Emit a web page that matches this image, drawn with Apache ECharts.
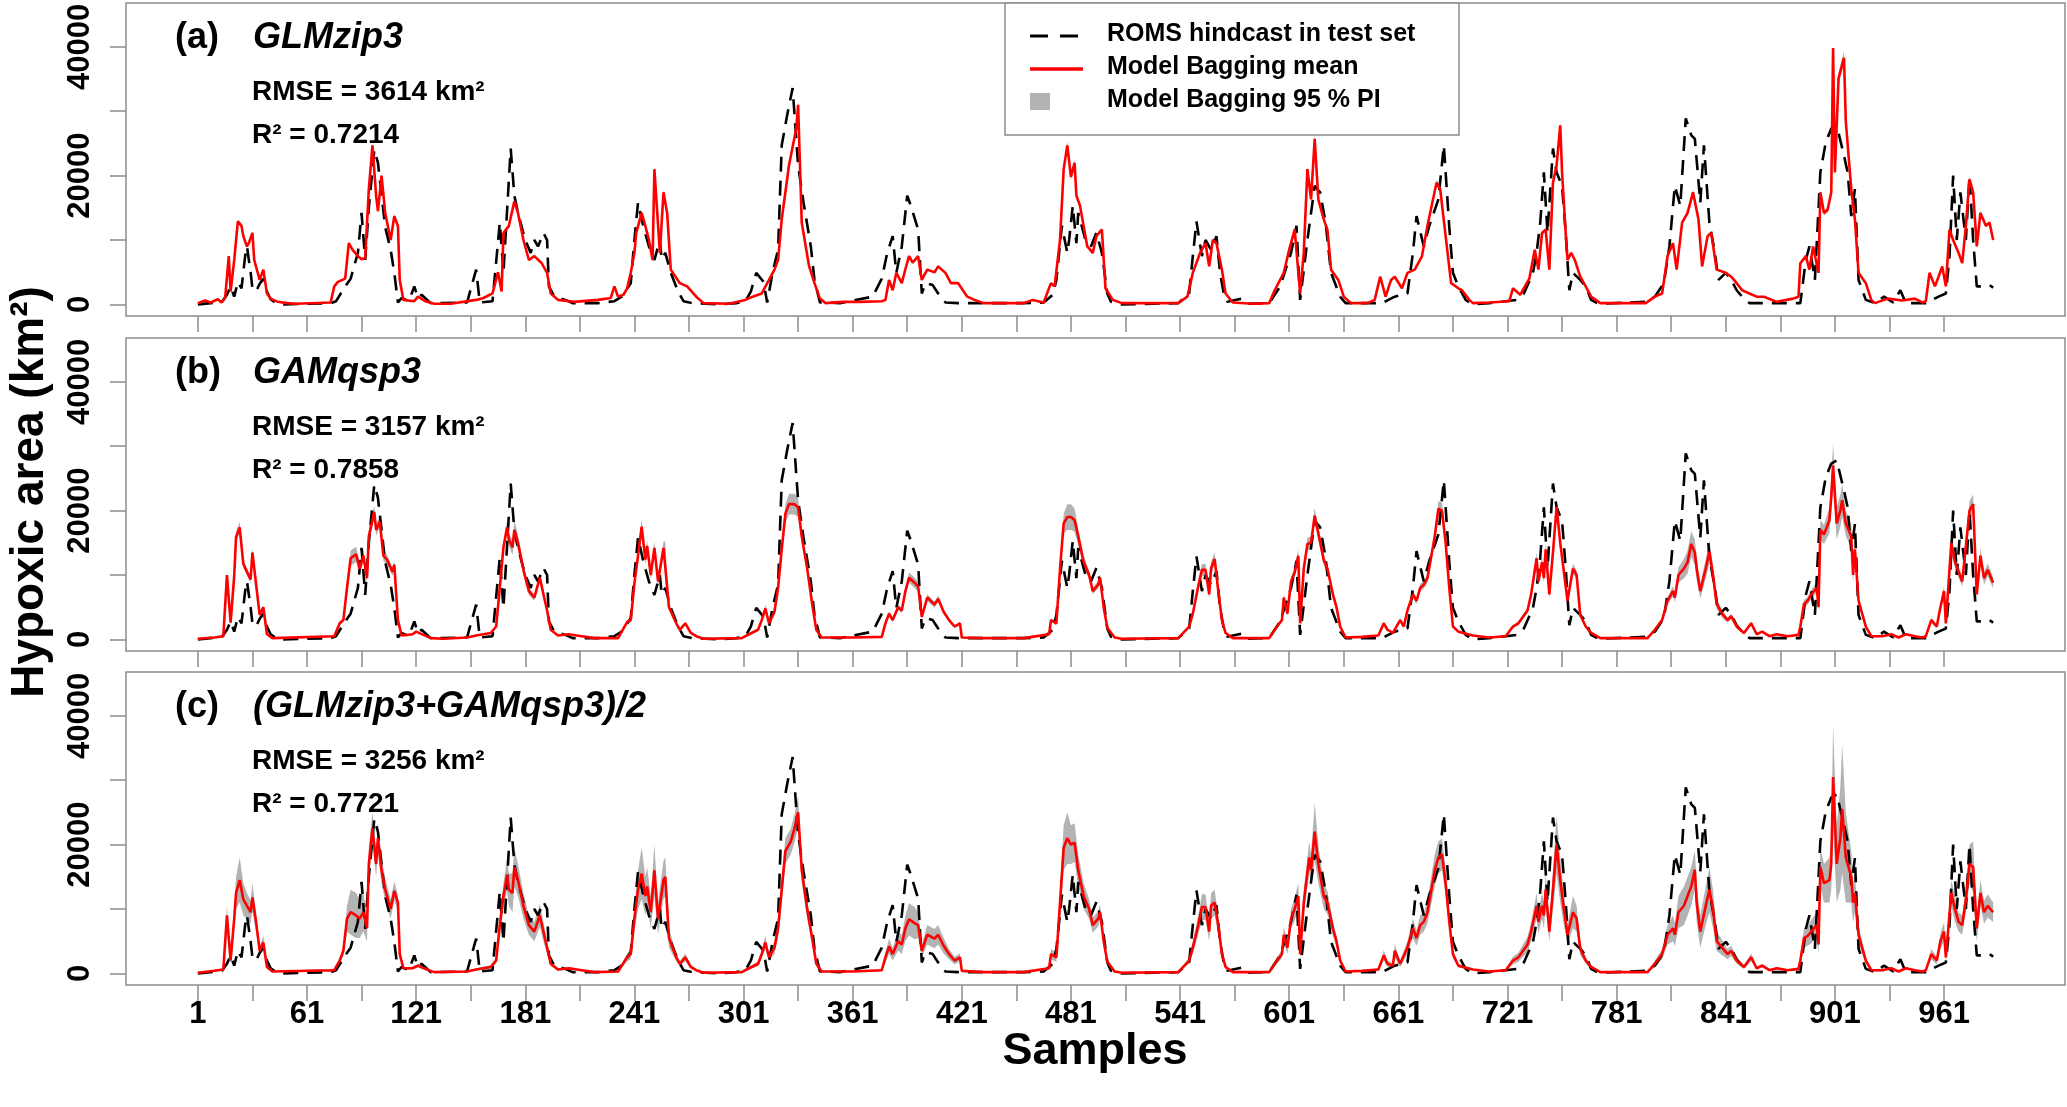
<!DOCTYPE html>
<html>
<head>
<meta charset="utf-8">
<script src="https://cdn.jsdelivr.net/npm/echarts@6/dist/echarts.min.js"></script>
<style>
html, body { margin: 0; padding: 0; background: #fff; }
#chart { width: 2067px; height: 1107px; }
</style>
</head>
<body>
<div id="chart"></div>
<script>
// ROMS hindcast in test set: [sample, hypoxic area in 1000 km2]
var hindcast = [
  [1,0],[8,0.2],[14,0.3],[17,1.5],[19,2.8],[21,1.2],[23,3.5],[25,2.5],[27,7.5],[28,9.0],[30,5.0],[31,2.5],[33,2.0],[35,3.2],[37,4.0],[39,2.0],[41,0.8],[44,0.2],[48,0],
  [74,0.2],[77,0.5],[82,2.8],[85,4.0],[89,8.0],[91,14.2],[93,6.9],[95,15.0],[98,24.0],[100,22.0],[102,17.0],[104,12.0],[107,8.5],[109,4.9],[111,0.3],[113,1.0],[117,0.5],[120,2.8],[122,1.0],[124,1.5],[129,0.2],
  [131,0.2],[149,0.3],[154,5.4],[156,0.3],[163,0.5],[167,12.7],[169,4.9],[173,24.2],[175,16.9],[177,14.2],[181,10.0],[184,8.0],[186,10.0],[188,9.0],[191,11.1],[193,10.0],[194,2.8],[197,1.2],[203,0.7],[207,0.2],[221,0.2],[230,0.5],
  [234,1.2],[239,3.3],[241,10.0],[243,15.8],[246,12.0],[249,9.0],[252,6.9],[255,10.0],[256,7.0],[258,8.0],[261,4.9],[265,2.0],[268,0.5],[273,0.2],[288,0],
  [297,0.2],[302,0.5],[305,2.0],[308,4.9],[312,3.5],[314,0.3],[317,5.0],[320,8.5],[322,24.7],[325,29.4],[328,33.6],[331,21.6],[334,15.8],[338,9.0],[340,3.8],[343,0.3],
  [354,0.2],[372,1.2],[377,4.0],[380,8.0],[383,10.6],[385,4.9],[388,9.0],[391,16.9],[393,15.3],[397,11.6],[399,1.7],[401,3.3],[405,3.0],[408,1.7],[412,0.3],[419,0.2],[455,0.2],
  [466,0.3],[471,1.5],[473,3.8],[476,12.2],[479,8.0],[480,10.0],[482,15.3],[484,9.5],[485,14.2],[489,10.0],[492,9.0],[495,11.1],[498,8.0],[501,1.7],[503,0.4],[509,0],
  [540,0.2],[546,1.7],[548,7.5],[550,12.9],[553,7.5],[555,10.0],[558,8.5],[561,10.6],[563,4.9],[565,1.7],[567,0.4],[575,0.9],[578,0.1],
  [590,0.2],[596,2.8],[602,8.0],[605,12.2],[607,0.7],[611,10.0],[615,18.4],[618,17.4],[621,12.7],[624,4.9],[629,1.2],[632,0.2],
  [652,0.2],[659,1.2],[666,1.7],[669,8.0],[671,13.7],[675,9.0],[678,12.2],[683,16.3],[686,24.7],[689,12.0],[691,4.9],[694,2.8],[698,0.7],[702,0],
  [711,0.2],[726,0.7],[730,1.7],[735,4.9],[737,8.0],[739,12.7],[741,20.5],[743,11.1],[746,24.2],[748,20.5],[751,18.4],[753,11.1],[755,2.2],[757,4.9],[761,3.8],[764,2.8],[767,0.7],[771,0.1],
  [797,0.4],[802,1.2],[807,3.3],[810,9.0],[813,18.4],[816,15.3],[819,28.9],[822,26.3],[824,25.7],[827,15.8],[829,24.7],[832,12.7],[835,8.0],[837,3.8],[841,4.9],[844,3.8],[847,2.2],[850,1.2],[854,0.2],
  [882,0.2],[885,6.9],[887,9.0],[890,3.8],[893,20.5],[896,25.2],[899,27.3],[902,27.8],[906,23.1],[908,20.5],[910,13.7],[912,17.9],[914,3.8],[918,0.7],[923,0.2],[928,1.2],[933,0.3],[937,2.2],[940,0.2],
  [951,0.2],[958,1.2],[962,1.7],[964,7.5],[966,20.0],[968,10.0],[970,17.4],[973,10.0],[975,20.0],[977,10.0],[979,2.8],[981,2.8],[986,3.0],[988,2.6]
];

// Model bagging: [sample, mean (1000 km2), half width of 95% PI (1000 km2)]
var meanGLM = [
  [1,0.2,0],[5,0.6,0],[8,0.3,0],[12,0.8,0],[14,0.3,0],[16,1.0,0],[18,7.5,0.2],[19,2.0,0.1],[21,6.9,0.2],[23,12.9,0.3],[25,12.2,0.3],[26,10.6,0.3],[28,9.0,0.2],[29,9.5,0.2],[31,11.1,0.3],[32,6.9,0.2],[35,3.8,0.1],[37,5.4,0.1],[39,1.7,0],[41,0.9,0],[45,0.4,0],[50,0.2,0],
  [55,0.1,0],[74,0.3,0],[76,2.8,0.1],[78,3.5,0.1],[82,4.0,0.1],[84,9.5,0.3],[86,8.5,0.3],[89,7.5,0.2],[91,7.0,0.2],[93,7.2,0.2],[95,17.9,0.4],[97,24.7,0.6],[99,16.9,0.4],[100,14.5,0.4],[102,20.0,0.5],[104,14.2,0.4],[107,10.0,0.3],[109,13.7,0.4],[111,12.2,0.3],[112,3.8,0.1],[114,0.7,0],[120,0.5,0],[122,1.2,0],[126,0.5,0],[131,0.1,0],
  [140,0.1,0],[154,0.7,0],[158,1.0,0],[163,1.7,0],[166,5.0,0.1],[168,2.0,0.1],[169,11.1,0.3],[172,12.2,0.3],[175,16.0,0.4],[177,14.2,0.4],[180,10.0,0.3],[183,6.9,0.2],[186,7.5,0.2],[190,6.4,0.2],[193,4.9,0.1],[195,1.7,0],[199,0.7,0],[208,0.4,0],[221,0.7,0],[228,1.0,0],[230,2.8,0.1],[232,1.2,0],
  [235,1.5,0],[237,2.5,0.1],[239,4.9,0.1],[241,8.0,0.2],[242,11.1,0.3],[245,14.2,0.4],[247,12.2,0.3],[249,10.0,0.3],[251,6.9,0.2],[252,21.0,0.5],[255,8.0,0.2],[257,17.4,0.4],[259,14.2,0.4],[261,5.4,0.1],[266,3.3,0.1],[270,2.8,0.1],[275,1.2,0],[279,0.2,0],
  [293,0.1,0],[302,0.7,0],[306,1.2,0],[311,1.7,0],[315,3.8,0.1],[318,5.4,0.1],[320,6.9,0.2],[322,13.2,0.3],[326,21.6,0.5],[330,27.3,0.7],[331,31.0,0.8],[333,12.7,0.3],[337,6.0,0.2],[340,3.3,0.1],[343,0.9,0],
  [346,0.2,0],[356,0.4,0],[365,0.4,0],[377,0.5,0],[379,0.7,0],[381,3.8,0.1],[383,2.2,0.1],[385,4.9,0.1],[388,3.3,0.1],[390,5.5,0.1],[392,7.5,0.2],[394,6.5,0.2],[397,7.5,0.2],[399,3.8,0.1],[402,5.4,0.1],[406,5.0,0.1],[408,5.9,0.1],[412,4.9,0.1],[415,3.3,0.1],[419,3.3,0.1],[424,1.2,0],[428,0.7,0],[433,0.2,0],
  [455,0.2,0],[460,0.7,0],[466,0.3,0],[470,3.3,0.1],[472,2.8,0.1],[475,10.0,0.3],[477,21.0,0.5],[479,24.7,0.6],[481,19.8,0.5],[483,22.0,0.5],[484,16.9,0.4],[486,15.3,0.4],[490,9.0,0.2],[493,8.0,0.2],[495,10.6,0.3],[498,11.6,0.3],[500,2.5,0.1],[504,0.7,0],[509,0.2,0],
  [540,0.2,0],[545,1.2,0],[548,4.9,0.1],[552,8.0,0.2],[555,9.5,0.2],[557,5.9,0.1],[559,10.0,0.3],[561,9.5,0.2],[564,5.4,0.1],[566,1.7,0],[570,0.3,0],[581,0.1,0],
  [590,0.2,0],[593,2.2,0.1],[598,4.9,0.1],[601,8.5,0.2],[604,11.6,0.3],[607,1.7,0.1],[609,8.0,0.2],[611,21.0,0.5],[613,16.3,0.4],[615,25.7,0.7],[617,16.3,0.4],[620,13.2,0.3],[622,11.6,0.3],[624,5.4,0.1],[628,3.8,0.1],[631,1.2,0],[635,0.2,0],
  [644,0.2,0],[648,0.7,0],[651,4.3,0.1],[654,1.2,0],[657,3.8,0.1],[659,4.3,0.1],[663,2.5,0.1],[666,4.9,0.1],[670,5.4,0.1],[674,7.5,0.2],[677,12.2,0.3],[682,18.9,0.5],[684,17.9,0.4],[687,10.6,0.3],[690,3.3,0.1],[694,2.5,0.1],[696,2.2,0.1],[700,0.7,0],[702,0.2,0],
  [711,0.3,0],[722,0.5,0],[724,2.5,0.1],[728,1.5,0],[733,4.0,0.1],[736,8.5,0.2],[738,5.4,0.1],[740,11.1,0.3],[742,11.6,0.3],[744,5.4,0.1],[746,18.9,0.5],[748,21.6,0.5],[750,27.8,0.7],[751,20.5,0.5],[753,11.1,0.3],[754,6.9,0.2],[756,8.0,0.2],[758,6.9,0.2],[761,4.3,0.1],[764,2.8,0.1],[767,1.2,0],[772,0.2,0],
  [797,0.2,0],[802,1.2,0],[806,1.7,0],[809,7.5,0.2],[812,9.5,0.2],[814,5.4,0.1],[817,12.7,0.3],[820,14.2,0.4],[823,17.4,0.4],[826,13.2,0.3],[828,5.9,0.1],[831,10.6,0.3],[833,11.1,0.3],[836,5.4,0.1],[841,4.9,0.1],[844,4.3,0.1],[847,3.3,0.1],[850,2.2,0.1],[854,1.7,0],[858,1.2,0],[862,1.2,0],[869,0.4,0],[878,0.9,0],[881,1.2,0],
  [882,6.4,0.2],[885,7.5,0.2],[887,5.4,0.1],[889,9.0,0.2],[892,4.9,0.1],[893,17.4,0.4],[895,14.2,0.4],[897,14.7,0.4],[899,17.4,0.4],[900,39.8,1.0],[901,20.5,0.5],[903,35.1,0.9],[906,38.3,1.0],[907,28.4,0.7],[910,17.9,0.4],[912,13.2,0.3],[914,4.9,0.1],[918,3.3,0.1],[921,0.7,0],[923,0.2,0],[930,0.9,0],[938,0.6,0],[945,0.9,0],[949,0.3,0],
  [951,0.5,0],[953,4.9,0.1],[956,2.8,0.1],[958,4.3,0.1],[960,5.9,0.1],[962,2.8,0.1],[964,11.6,0.3],[966,10.0,0.3],[969,8.0,0.2],[971,6.4,0.2],[973,12.2,0.3],[975,19.4,0.5],[977,17.4,0.4],[979,9.0,0.2],[981,14.2,0.4],[984,12.2,0.3],[986,12.7,0.3],[988,10.0,0.3]
];

var meanGAM = [
  [1,0.1,0],[10,0.3,0],[15,0.5,0.1],[17,10.0,0.5],[19,2.6,0.3],[21,9.9,0.6],[22,15.9,0.8],[24,17.4,0.9],[26,11.7,0.6],[28,10.5,0.6],[30,9.3,0.5],[31,13.5,0.7],[33,8.6,0.5],[35,3.8,0.3],[37,5.0,0.3],[39,0.8,0.1],[42,0.2,0],
  [76,0.5,0.1],[79,2.5,0.3],[81,3.0,0.3],[83,8.0,0.6],[85,12.6,1.2],[88,13.2,1.2],[90,11.0,1.0],[92,13.0,1.0],[94,9.5,0.7],[95,16.0,1.0],[98,19.8,1.0],[99,17.0,0.9],[101,18.3,0.9],[103,13.0,0.8],[105,12.4,0.8],[108,10.5,0.6],[109,11.6,0.6],[111,3.0,0.3],[113,0.6,0.1],[119,0.8,0.1],[121,1.2,0.1],[125,0.7,0.1],[129,0.2,0],
  [136,0.1,0],[149,0.3,0],[154,0.6,0.1],[162,1.0,0.1],[165,2.0,0.2],[167,8.0,0.5],[169,14.3,0.8],[171,17.4,1.0],[172,15.5,1.0],[174,14.3,1.2],[175,17.0,1.5],[177,15.0,1.2],[180,10.8,0.8],[183,7.5,0.6],[186,6.5,0.5],[189,9.6,0.6],[191,7.0,0.5],[193,4.5,0.3],[195,1.5,0.2],[199,0.6,0.1],[205,0.8,0.1],[212,0.5,0],[219,0.2,0],
  [232,0.2,0],[237,2.7,0.2],[239,3.0,0.3],[241,8.7,0.6],[243,13.0,0.9],[245,17.5,1.1],[247,12.4,0.8],[248,14.5,0.9],[250,10.0,0.7],[252,14.2,1.0],[254,9.0,0.7],[257,14.2,1.0],[258,14.2,1.0],[260,5.0,0.4],[264,2.5,0.2],[266,1.5,0.1],[269,2.5,0.2],[272,1.0,0.1],[275,0.5,0],[279,0.1,0],
  [300,0.2,0],[304,0.8,0.1],[309,1.5,0.2],[311,3.0,0.4],[313,4.8,0.6],[315,2.5,0.4],[318,4.3,0.6],[320,8.0,1.0],[322,14.0,1.2],[324,19.5,1.5],[326,21.0,1.6],[329,21.0,1.6],[331,20.5,1.5],[333,16.0,1.2],[336,11.0,0.8],[339,5.0,0.4],[341,1.5,0.2],[344,0.3,0],
  [361,0.3,0],[377,0.4,0],[379,2.5,0.3],[381,4.0,0.4],[383,3.0,0.3],[386,5.0,0.4],[388,4.5,0.4],[390,7.5,0.6],[392,9.6,0.8],[395,8.8,0.8],[397,8.2,0.7],[399,3.5,0.4],[402,6.5,0.5],[406,5.4,0.5],[408,6.3,0.5],[411,4.3,0.4],[414,3.0,0.3],[417,2.0,0.2],[420,2.5,0.2],[421,0.3,0],[433,0.2,0],
  [455,0.2,0],[469,0.8,0.1],[470,3.0,0.3],[473,2.5,0.3],[475,11.0,0.8],[477,18.0,1.5],[479,19.0,2.0],[481,19.0,2.0],[483,18.5,1.8],[485,16.0,1.3],[488,12.0,0.9],[491,10.0,0.7],[493,7.5,0.5],[496,8.5,0.6],[497,9.6,0.6],[499,5.0,0.4],[501,1.8,0.2],[505,0.3,0],[509,0.1,0],
  [540,0.2,0],[546,2.0,0.2],[548,4.0,0.4],[551,8.3,0.7],[553,10.8,0.9],[555,10.8,0.9],[557,7.0,0.6],[558,11.0,1.0],[560,12.5,1.0],[562,7.5,0.6],[564,3.0,0.3],[566,1.0,0.1],[570,0.2,0],
  [590,0.2,0],[593,1.5,0.2],[597,3.0,0.3],[598,6.5,0.5],[600,4.0,0.4],[602,9.0,0.7],[604,10.4,0.8],[606,13.0,1.0],[607,2.5,0.3],[609,11.0,0.8],[611,14.8,1.0],[613,15.0,1.0],[615,19.2,1.2],[617,16.5,1.0],[620,12.3,0.8],[622,11.0,0.7],[625,7.0,0.5],[627,5.0,0.4],[629,2.0,0.2],[632,0.3,0],
  [641,0.4,0],[650,0.6,0.1],[653,2.5,0.3],[655,1.5,0.2],[658,1.0,0.1],[662,3.0,0.3],[664,2.0,0.2],[666,4.5,0.4],[669,7.0,0.6],[671,6.0,0.5],[673,8.0,0.6],[675,8.5,0.6],[677,9.5,0.7],[681,16.0,1.0],[683,20.3,1.2],[685,20.0,1.2],[687,15.0,1.0],[689,8.0,0.6],[691,2.0,0.2],[694,1.2,0.1],[702,0.6,0],
  [711,0.3,0],[720,0.5,0],[724,2.0,0.2],[727,2.5,0.3],[732,4.5,0.4],[734,7.0,0.6],[737,12.6,0.9],[738,9.0,0.7],[740,12.0,0.9],[741,9.5,0.7],[742,14.0,1.0],[744,7.0,0.6],[746,13.5,1.0],[748,20.6,1.2],[750,15.0,1.0],[752,10.5,0.8],[754,6.0,0.5],[757,11.0,0.8],[759,10.0,0.7],[761,3.8,0.3],[764,2.0,0.2],[767,1.0,0.1],[772,0.2,0],
  [798,0.2,0],[802,1.5,0.2],[806,3.0,0.3],[809,6.0,0.6],[812,7.5,0.8],[813,6.5,0.7],[815,10.0,1.2],[818,11.0,1.5],[820,12.0,1.8],[822,14.8,2.0],[824,13.5,2.0],[825,11.0,1.8],[827,7.5,1.2],[830,11.0,1.5],[832,13.6,1.8],[834,10.0,1.4],[836,5.5,0.8],[839,4.0,0.6],[842,3.0,0.4],[844,3.6,0.4],[847,2.0,0.3],[851,1.0,0.1],[855,2.5,0.3],[858,0.8,0.1],[861,1.2,0.1],[865,0.5,0],[869,0.8,0.1],[875,0.5,0],[881,0.7,0.1],
  [882,2.0,0.3],[884,5.5,0.6],[886,6.0,0.6],[888,7.0,0.7],[891,8.0,0.8],[892,5.0,0.6],[893,17.0,1.5],[895,16.3,1.5],[898,18.5,2.0],[899,22.2,2.5],[900,27.0,3.5],[902,18.0,2.5],[904,20.0,2.5],[905,21.6,2.5],[907,18.0,2.0],[910,16.0,1.8],[911,10.0,1.2],[912,14.0,1.5],[914,6.0,0.7],[918,2.0,0.3],[921,0.5,0.1],[927,0.5,0.1],[932,0.8,0.1],[936,0.3,0],[940,0.8,0.1],[945,0.5,0.1],[949,0.3,0],
  [951,0.5,0.1],[954,3.0,0.4],[957,2.0,0.3],[959,5.0,0.6],[961,7.5,0.8],[962,2.5,0.4],[965,15.0,1.2],[967,12.0,1.0],[969,10.5,0.9],[971,9.0,0.8],[973,14.5,1.2],[975,20.0,1.5],[977,21.0,1.5],[979,7.0,0.8],[981,13.0,1.2],[983,9.5,1.0],[985,10.8,1.0],[988,8.8,0.9]
];

var meanAvg = [
  [1,0.1,0],[10,0.4,0.1],[15,0.6,0.2],[17,9.0,1.5],[19,2.0,0.6],[21,8.5,1.5],[22,12.5,2.5],[24,14.5,3.5],[26,11.5,2.5],[28,10.5,2.0],[30,9.5,1.8],[31,11.8,2.2],[33,8.0,1.5],[35,3.5,0.8],[37,4.8,1.0],[39,1.0,0.3],[42,0.3,0.1],
  [76,0.5,0.2],[79,2.0,0.5],[81,3.5,0.8],[83,8.5,2.0],[85,9.5,3.5],[88,9.0,3.5],[90,8.5,3.0],[92,9.5,3.0],[94,7.0,2.0],[95,17.0,2.5],[97,22.5,2.5],[99,17.0,2.0],[100,21.0,2.5],[102,16.0,2.0],[104,13.0,1.8],[107,10.0,1.5],[109,12.8,1.5],[111,11.0,1.2],[112,3.0,0.6],[114,0.8,0.2],[119,0.8,0.2],[122,1.2,0.3],[126,0.7,0.2],[131,0.2,0],
  [149,0.3,0.1],[154,0.6,0.2],[162,1.0,0.3],[165,2.0,0.5],[167,7.5,1.5],[169,12.0,2.0],[171,15.3,2.5],[172,13.0,2.5],[174,12.5,3.0],[175,16.5,3.0],[177,14.5,2.5],[180,10.5,2.0],[183,7.5,1.5],[186,6.5,1.5],[189,9.0,1.8],[191,6.5,1.5],[193,4.0,1.0],[195,1.5,0.4],[199,0.6,0.2],[205,0.8,0.2],[212,0.5,0.1],[219,0.2,0],
  [232,0.3,0.1],[237,2.5,0.6],[239,3.0,0.8],[241,8.5,2.0],[243,13.0,3.0],[245,15.5,4.0],[247,12.0,3.0],[248,13.5,3.0],[250,9.5,2.5],[252,16.0,4.0],[254,8.5,2.5],[257,14.5,3.0],[258,15.0,3.0],[260,5.5,1.5],[264,2.5,0.6],[266,1.5,0.4],[269,2.5,0.6],[272,1.0,0.3],[275,0.5,0.1],[279,0.1,0],
  [300,0.2,0],[304,0.8,0.2],[309,1.5,0.4],[311,3.0,0.7],[313,4.8,1.0],[315,2.5,0.6],[318,4.0,1.0],[320,7.0,1.5],[322,13.0,2.0],[324,19.0,2.0],[327,20.5,2.0],[329,22.5,2.2],[331,25.0,2.5],[333,16.0,2.0],[336,10.0,1.5],[339,5.0,0.8],[341,1.5,0.3],[344,0.3,0.1],
  [361,0.3,0.1],[377,0.5,0.1],[379,2.5,0.8],[381,4.2,1.2],[383,3.0,1.0],[386,5.0,1.5],[388,4.5,1.5],[390,7.0,2.0],[392,8.4,2.5],[395,7.8,2.5],[397,7.5,2.0],[399,3.5,1.0],[402,6.0,1.5],[406,5.4,1.5],[408,6.0,1.5],[411,4.3,1.2],[414,3.0,0.8],[417,2.0,0.6],[420,2.5,0.6],[421,0.4,0.1],[433,0.2,0],
  [455,0.2,0],[469,0.8,0.2],[470,3.0,0.8],[473,2.5,0.7],[475,11.0,2.5],[477,19.5,3.5],[479,21.0,4.0],[481,20.0,3.0],[483,20.3,3.0],[485,16.0,2.5],[488,12.0,2.0],[491,10.0,1.5],[493,7.5,1.2],[496,8.5,1.2],[497,9.5,1.2],[499,5.0,0.8],[501,1.8,0.4],[505,0.3,0.1],[509,0.1,0],
  [540,0.2,0],[546,2.0,0.5],[548,4.0,1.0],[551,7.5,1.5],[553,10.3,2.0],[555,10.3,2.0],[557,6.5,1.5],[558,10.5,2.0],[560,11.0,2.0],[562,7.5,1.5],[564,3.0,0.7],[566,1.0,0.3],[570,0.2,0],
  [590,0.2,0],[593,1.5,0.4],[597,3.0,0.7],[598,6.0,1.2],[600,4.0,1.0],[602,8.5,1.5],[604,10.0,1.8],[606,12.0,2.0],[607,3.0,0.8],[609,11.0,2.0],[612,18.0,2.5],[613,16.0,2.5],[615,22.0,4.5],[617,17.0,3.0],[620,12.0,2.0],[622,11.0,1.8],[625,7.0,1.2],[627,5.0,0.8],[629,2.0,0.4],[632,0.3,0.1],
  [641,0.4,0.1],[650,0.6,0.2],[653,2.8,0.8],[655,1.5,0.5],[658,1.2,0.4],[659,3.5,1.0],[662,1.5,0.5],[666,4.0,1.0],[669,7.0,1.5],[671,5.5,1.2],[673,7.5,1.5],[675,8.0,1.5],[677,9.5,1.8],[681,16.0,2.5],[683,18.0,2.5],[685,18.5,2.5],[687,14.0,2.0],[689,8.0,1.2],[691,3.0,0.6],[694,1.2,0.3],[702,0.6,0.1],
  [711,0.3,0.1],[720,0.5,0.1],[724,2.0,0.6],[727,2.5,0.7],[732,4.5,1.2],[734,6.5,1.5],[737,10.5,2.0],[738,8.0,1.8],[740,10.5,2.0],[741,9.0,2.0],[742,13.0,2.5],[744,6.5,1.5],[746,13.0,3.0],[748,20.0,4.5],[750,14.5,3.5],[752,10.0,2.5],[754,6.0,1.5],[757,9.5,2.5],[759,8.5,2.0],[761,3.8,1.0],[764,2.0,0.5],[767,1.0,0.3],[772,0.2,0],
  [798,0.2,0.1],[802,1.5,0.5],[806,3.0,0.8],[809,6.0,1.5],[812,7.0,2.0],[813,6.0,1.8],[815,9.5,2.5],[818,10.5,3.0],[820,12.0,3.0],[822,13.5,3.0],[824,16.1,3.0],[825,11.0,3.0],[827,6.5,2.5],[830,10.5,3.0],[832,13.0,3.5],[834,10.0,3.0],[836,5.0,1.5],[839,4.0,1.2],[842,3.0,0.8],[844,3.5,0.8],[847,2.0,0.5],[851,1.0,0.3],[855,2.5,0.6],[858,0.8,0.2],[861,1.2,0.3],[865,0.5,0.1],[869,0.8,0.2],[875,0.5,0.1],[881,0.7,0.2],
  [882,2.0,0.6],[884,5.5,1.5],[886,5.8,1.5],[888,6.5,1.8],[891,7.5,2.0],[892,4.5,1.5],[893,16.5,3.0],[895,14.0,3.0],[898,14.5,3.5],[899,17.0,4.0],[900,30.5,8.0],[902,17.0,6.0],[904,21.0,8.0],[905,25.5,10.0],[907,18.0,7.0],[910,15.0,4.0],[911,11.0,3.0],[912,12.5,3.0],[914,6.0,1.5],[918,2.0,0.5],[921,0.5,0.2],[927,0.5,0.2],[932,0.8,0.2],[936,0.3,0.1],[940,0.8,0.2],[945,0.5,0.1],[949,0.3,0.1],
  [951,0.5,0.2],[954,3.0,0.8],[957,2.0,0.6],[959,5.0,1.2],[961,6.5,1.5],[962,2.5,0.8],[965,12.5,2.0],[967,10.0,2.0],[969,8.0,1.5],[971,7.5,1.5],[973,11.5,2.0],[975,17.0,3.0],[977,16.5,4.0],[979,7.0,2.0],[981,12.5,2.0],[983,9.5,1.8],[985,10.5,1.8],[988,9.5,1.5]
];

var panelTags = ['(a)', '(b)', '(c)'];
var panelModels = ['GLMzip3', 'GAMqsp3', '(GLMzip3+GAMqsp3)/2'];
var panelRmse = ['3614', '3157', '3256'];
var panelR2 = ['0.7214', '0.7858', '0.7721'];
var panelMeans = [meanGLM, meanGAM, meanAvg];

var xTickSamples = [1,31,61,91,121,151,181,211,241,271,301,331,361,391,421,451,481,511,541,571,601,631,661,691,721,751,781,811,841,871,901,931,961];
var xLabelSamples = [1,61,121,181,241,301,361,421,481,541,601,661,721,781,841,901,961];
var yTickValues = [0, 10000, 20000, 30000, 40000];
var yLabelValues = [0, 20000, 40000];
var legendNames = ['ROMS hindcast in test set', 'Model Bagging mean', 'Model Bagging 95 % PI'];

var FONT = '"Liberation Sans", Arial, Helvetica, sans-serif';
var BOX = '#8c8c8c';
var PI_GRAY = '#b3b3b3';
var gridTops = [3, 338, 672];
var gridHeight = 313;

var chart = echarts.init(document.getElementById('chart'), null, { renderer: 'canvas' });

function toKm2(rows) {
	return rows.map(function (r) { return [r[0], r[1] * 1000]; });
}

// 95% PI as one polygon: upper edge left->right, lower edge back
function bandSeries(i) {
	var rows = panelMeans[i];
	return {
		type: 'custom', xAxisIndex: i, yAxisIndex: i, silent: true, animation: false, z: 1,
		data: [[rows[0][0], 0]],
		renderItem: function (params, api) {
			var pts = [];
			rows.forEach(function (r) { pts.push(api.coord([r[0], (r[1] + r[2]) * 1000])); });
			for (var j = rows.length - 1; j >= 0; j--) {
				pts.push(api.coord([rows[j][0], Math.max(0, rows[j][1] - rows[j][2]) * 1000]));
			}
			return { type: 'polygon', shape: { points: pts }, style: { fill: PI_GRAY } };
		}
	};
}

function panelSeries(i) {
	var base = { type: 'line', xAxisIndex: i, yAxisIndex: i, symbol: 'none', silent: true, animation: false, z: 2 };
	return [
		bandSeries(i),
		Object.assign({}, base, { name: 'roms' + i, data: toKm2(hindcast),
			lineStyle: { color: '#000', width: 2.6, type: [15, 9] } }),
		Object.assign({}, base, { name: 'mean' + i, data: toKm2(panelMeans[i]),
			lineStyle: { color: '#ff0000', width: 2.6 } })
	];
}

var grids = [], xAxes = [], yAxes = [], series = [], graphics = [];

for (var i = 0; i < 3; i++) {
	grids.push({ left: 126, width: 1939, top: gridTops[i], height: gridHeight,
		show: true, borderColor: BOX, borderWidth: 1.5, backgroundColor: 'transparent' });
	xAxes.push({
		type: 'value', gridIndex: i, min: -38.5, max: 1027.5,
		axisLine: { show: false, onZero: false }, splitLine: { show: false },
		axisTick: { show: true, customValues: xTickSamples, length: 16, lineStyle: { color: BOX, width: 1.5 } },
		axisLabel: { show: i === 2, customValues: xLabelSamples, margin: 14, fontSize: 31, fontWeight: 'bold',
			color: '#000', fontFamily: FONT, formatter: function (v) { return String(v); } }
	});
	yAxes.push({
		type: 'value', gridIndex: i, min: -1800, max: 46800,
		axisLine: { show: false, onZero: false }, splitLine: { show: false },
		axisTick: { show: true, customValues: yTickValues, length: 16, lineStyle: { color: BOX, width: 1.5 } },
		axisLabel: { show: true, customValues: yLabelValues, rotate: 90, margin: 30, fontSize: 31, fontWeight: 'bold',
			color: '#000', fontFamily: FONT, formatter: function (v) { return String(v); } }
	});
	series = series.concat(panelSeries(i));

	var panelTop = gridTops[i];
	graphics.push(
		{ type: 'text', x: 175, y: panelTop + 35, z: 50, style: { text: panelTags[i], font: 'bold 36px ' + FONT,
			fill: '#000', align: 'left', verticalAlign: 'middle' } },
		{ type: 'text', x: 253, y: panelTop + 35, z: 50, style: { text: panelModels[i], font: 'italic bold 36px ' + FONT,
			fill: '#000', align: 'left', verticalAlign: 'middle' } },
		{ type: 'text', x: 252, y: panelTop + 89, z: 50, style: { text: 'RMSE = ' + panelRmse[i] + ' km\u00b2',
			font: 'bold 28px ' + FONT, fill: '#000', align: 'left', verticalAlign: 'middle' } },
		{ type: 'text', x: 252, y: panelTop + 132, z: 50, style: { text: 'R\u00b2 = ' + panelR2[i],
			font: 'bold 28px ' + FONT, fill: '#000', align: 'left', verticalAlign: 'middle' } }
	);
}

// legend box (top panel)
graphics.push(
	{ type: 'rect', z: 60, shape: { x: 1005, y: 3, width: 454, height: 132 },
		style: { fill: '#fff', stroke: BOX, lineWidth: 1.5 } },
	{ type: 'line', z: 61, shape: { x1: 1030, y1: 36, x2: 1078, y2: 36 },
		style: { stroke: '#000', lineWidth: 3, lineDash: [18, 12] } },
	{ type: 'line', z: 61, shape: { x1: 1030, y1: 69, x2: 1083, y2: 69 },
		style: { stroke: '#ff0000', lineWidth: 3.5 } },
	{ type: 'rect', z: 61, shape: { x: 1030, y: 93, width: 20, height: 17 }, style: { fill: PI_GRAY } }
);
for (var k = 0; k < legendNames.length; k++) {
	graphics.push({ type: 'text', z: 61, x: 1107, y: 34 + k * 33, style: { text: legendNames[k],
		font: 'bold 25px ' + FONT, fill: '#000', align: 'left', verticalAlign: 'middle' } });
}

// axis titles
graphics.push(
	{ type: 'text', z: 50, x: 30, y: 492, rotation: Math.PI / 2, style: { text: 'Hypoxic area (km\u00b2)',
		font: 'bold 46px ' + FONT, fill: '#000', align: 'center', verticalAlign: 'middle' } },
	{ type: 'text', z: 50, x: 1095, y: 1052, style: { text: 'Samples',
		font: 'bold 45px ' + FONT, fill: '#000', align: 'center', verticalAlign: 'middle' } }
);

var option = {
	animation: false,
	backgroundColor: '#fff',
	grid: grids,
	xAxis: xAxes,
	yAxis: yAxes,
	series: series,
	graphic: graphics
};
chart.setOption(option);
</script>
</body>
</html>
